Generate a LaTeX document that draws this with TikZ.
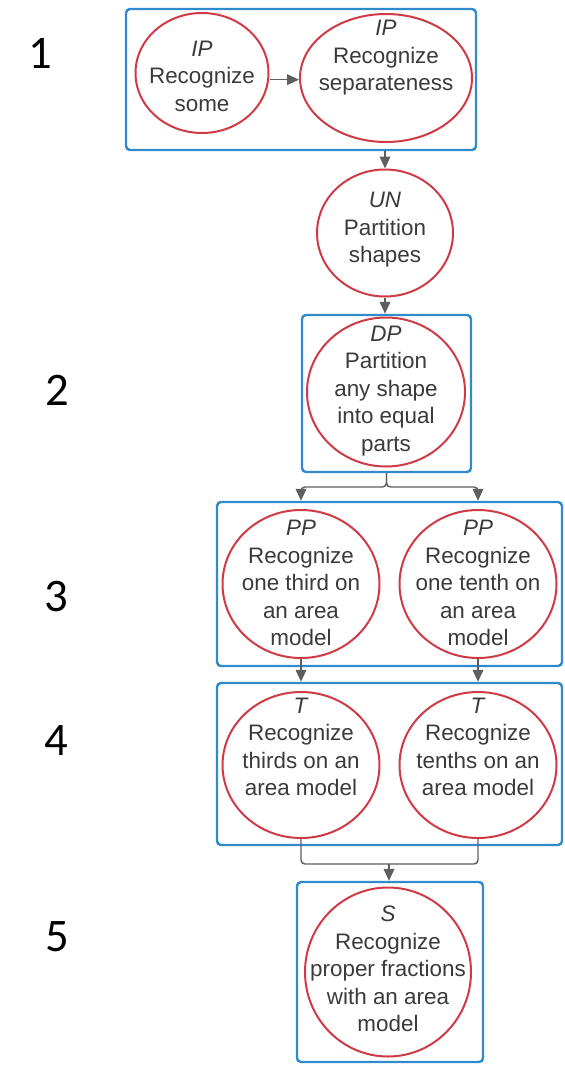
\documentclass[tikz,border=0pt]{standalone}
\usepackage{fontspec}
\setmainfont{Liberation Sans}
\newfontfamily\numfont{Carlito}
\usetikzlibrary{shapes.geometric,arrows.meta}
\definecolor{boxblue}{HTML}{2F8BCB}
\definecolor{circred}{HTML}{CF3A45}
\definecolor{arrgray}{HTML}{5E5E5E}
\definecolor{txtgray}{HTML}{3A3A3A}
\newdimen\PX \PX=0.75pt
\tikzset{
  grp/.style={draw=boxblue, line width=1.8pt, rounded corners=3pt, inner sep=0pt},
  circ/.style={draw=circred, line width=1.5pt, ellipse, inner sep=0pt},
  txt/.style={align=center, text=txtgray, inner sep=0pt,
    font=\fontsize{16.8pt}{20.6pt}\selectfont},
  num/.style={font=\numfont\fontsize{35pt}{40pt}\selectfont, inner sep=0pt},
  arr/.style={draw=arrgray, line width=1.1pt, -{Triangle[length=9pt,width=8pt]}},
  conn/.style={draw=arrgray, line width=1.1pt, rounded corners=3pt},
}
\begin{document}
\begin{tikzpicture}[x=0.75pt,y=-0.75pt]
\useasboundingbox (0,0) rectangle (564,1067);
% level numbers
\node[num] (n1) at (40,53) {1};
\node[num] (n2) at (57,390) {2};
\node[num] (n3) at (56,597) {3};
\node[num] (n4) at (56,741) {4};
\node[num] (n5) at (57,937) {5};
% group boxes
\node[grp, minimum width=350\PX, minimum height=141\PX] (b1) at (301,79.5) {};
\node[grp, minimum width=169\PX, minimum height=157\PX] (b2) at (386.5,393.5) {};
\node[grp, minimum width=345\PX, minimum height=164\PX] (b3) at (389.5,584) {};
\node[grp, minimum width=345\PX, minimum height=162\PX] (b4) at (389.5,764) {};
\node[grp, minimum width=186\PX, minimum height=180\PX] (b5) at (390,972) {};
% ellipses
\node[circ, minimum width=133\PX, minimum height=120\PX] (c1) at (202,73) {};
\node[circ, minimum width=172\PX, minimum height=128\PX] (c2) at (386,78) {};
\node[circ, minimum width=136\PX, minimum height=127\PX] (un) at (385,233) {};
\node[circ, minimum width=158\PX, minimum height=149\PX] (dp) at (386,392) {};
\node[circ, minimum width=157\PX, minimum height=148\PX] (p1) at (301,584) {};
\node[circ, minimum width=157\PX, minimum height=148\PX] (p2) at (478,584) {};
\node[circ, minimum width=157\PX, minimum height=146\PX] (t1) at (301,765) {};
\node[circ, minimum width=157\PX, minimum height=146\PX] (t2) at (478,765) {};
\node[circ, minimum width=166\PX, minimum height=169\PX] (s) at (388,972) {};
% texts
\node[txt] (c1t) at (202,76) {\textit{IP}\\Recognize\\some};
\node[txt] (c2t) at (386,58) {\textit{IP}\\Recognize\\separateness};
\node[txt] (unt) at (385,230) {\textit{UN}\\Partition\\shapes};
\node[txt] (dpt) at (386,391) {\textit{DP}\\Partition\\any shape\\into equal\\parts};
\node[txt] (p1t) at (301,583) {\textit{PP}\\Recognize\\one third on\\an area\\model};
\node[txt] (p2t) at (478,583) {\textit{PP}\\Recognize\\one tenth on\\an area\\model};
\node[txt] (t1t) at (301,747) {\textit{T}\\Recognize\\thirds on an\\area model};
\node[txt] (t2t) at (478,747) {\textit{T}\\Recognize\\tenths on an\\area model};
\node[txt] (st) at (388,969) {\textit{S}\\Recognize\\proper fractions\\with an area\\model};
% connectors
\coordinate (a1) at ([yshift=-5pt]c1.east);
\draw[arr] (a1) -- (c2.west |- a1);
\draw[arr] (b1.south -| un.north) -- (un.north);
\draw[arr] (un.south) -- (b2.north -| un.south);
\coordinate (split) at (386.5,487);
\draw[conn, arr] (b2.south) -- (split) -| (b3.north -| p1.north);
\draw[conn, arr] (b2.south) -- (split) -| (b3.north -| p2.north);
\draw[arr] (p1.south) -- (b4.north -| p1.south);
\draw[arr] (p2.south) -- (b4.north -| p2.south);
\coordinate (join) at (389,864);
\draw[conn] (t1.south) |- (join);
\draw[conn] (t2.south) |- (join);
\draw[arr] (join) -- (b5.north -| join);
\end{tikzpicture}
\end{document}
